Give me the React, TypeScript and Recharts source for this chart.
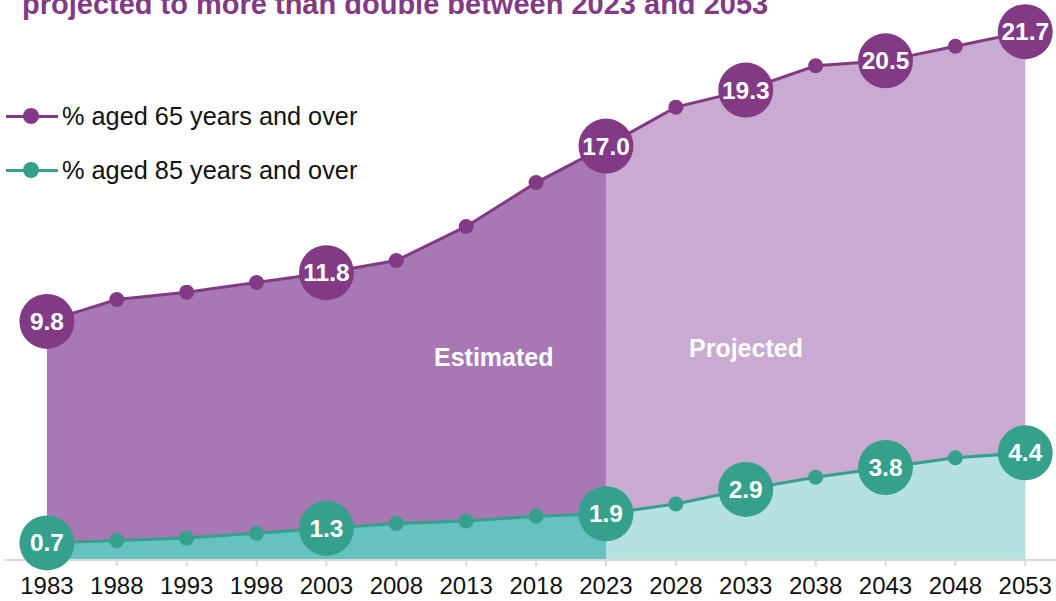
import { ComposedChart, Area, Line, XAxis, YAxis } from 'recharts';

const years = [1983, 1988, 1993, 1998, 2003, 2008, 2013, 2018, 2023, 2028, 2033, 2038, 2043, 2048, 2053];
const aged65 = [9.8, 10.7, 11.0, 11.4, 11.8, 12.3, 13.7, 15.5, 17.0, 18.6, 19.3, 20.3, 20.5, 21.1, 21.7];
const aged85 = [0.7, 0.8, 0.9, 1.1, 1.3, 1.5, 1.6, 1.8, 1.9, 2.3, 2.9, 3.4, 3.8, 4.2, 4.4];
const labeledYears = [1983, 2003, 2023, 2033, 2043, 2053];
const lastEstimated = 2023;

const seriesNames = ['% aged 65 years and over', '% aged 85 years and over'];
const title = 'projected to more than double between 2023 and 2053';

const PURPLE = '#833a85';
const TEAL = '#35a08b';
const FONT = '"Liberation Sans", Arial, sans-serif';

const data = years.map((year, i) => ({
    year,
    a65: aged65[i],
    a85: aged85[i],
    a65est: year <= lastEstimated ? aged65[i] : null,
    a65proj: year >= lastEstimated ? aged65[i] : null,
    a85est: year <= lastEstimated ? aged85[i] : null,
    a85proj: year >= lastEstimated ? aged85[i] : null,
}));

const makeDot = (color: string) => (props: any) => {
    const { cx, cy, payload, index, value } = props;
    if (cx == null || cy == null) return <g key={`e-${index}`} />;
    if (labeledYears.includes(payload.year)) {
        return (
            <g key={`d-${index}`}>
                <circle cx={cx} cy={cy} r={27.5} fill={color} />
                <text x={cx} y={cy} dy={8.5} textAnchor="middle" fill="#fff" fontSize={24.5} fontWeight="bold" fontFamily={FONT}>
                    {Number(value).toFixed(1)}
                </text>
            </g>
        );
    }
    return <circle key={`d-${index}`} cx={cx} cy={cy} r={7.5} fill={color} />;
};

const LegendRow = ({ color, label, top }: { color: string; label: string; top: number }) => (
    <div style={{ position: 'absolute', left: 6, top, height: 30, display: 'flex', alignItems: 'center' }}>
        <div style={{ position: 'relative', width: 52, height: 30 }}>
            <div style={{ position: 'absolute', left: 0, top: 13.5, width: 52, height: 3, background: color }} />
            <div style={{ position: 'absolute', left: 17, top: 7, width: 16, height: 16, borderRadius: 8, background: color }} />
        </div>
        <span style={{ marginLeft: 4, fontSize: 25.3, color: '#111', whiteSpace: 'nowrap' }}>{label}</span>
    </div>
);

export default function App() {
    return (
        <div style={{ position: 'absolute', left: 0, top: 0, width: 1056, height: 601, overflow: 'hidden', background: '#fff', fontFamily: FONT }}>
            <ComposedChart width={1056} height={601} data={data} margin={{ top: 0, right: 0, bottom: 0, left: 5 }}>
                <XAxis
                    dataKey="year"
                    type="number"
                    domain={[1980, 2055.2]}
                    ticks={years}
                    interval={0}
                    height={41}
                    stroke="#d9d9d9"
                    strokeWidth={2}
                    tickSize={6}
                    tickMargin={11}
                    tick={{ fill: '#111', fontSize: 24, fontFamily: FONT }}
                />
                <YAxis hide domain={[0, 23]} />
                <Area type="linear" dataKey="a65est" stroke="none" fill="#a878b5" fillOpacity={1} isAnimationActive={false} dot={false} activeDot={false} />
                <Area type="linear" dataKey="a65proj" stroke="none" fill="#c9aad0" fillOpacity={1} isAnimationActive={false} dot={false} activeDot={false} />
                <Area type="linear" dataKey="a85est" stroke="none" fill="#65c2c1" fillOpacity={1} isAnimationActive={false} dot={false} activeDot={false} />
                <Area type="linear" dataKey="a85proj" stroke="none" fill="#b5e2e1" fillOpacity={1} isAnimationActive={false} dot={false} activeDot={false} />
                <Line type="linear" dataKey="a65" stroke={PURPLE} strokeWidth={3} dot={makeDot(PURPLE)} activeDot={false} isAnimationActive={false} />
                <Line type="linear" dataKey="a85" stroke={TEAL} strokeWidth={3} dot={makeDot(TEAL)} activeDot={false} isAnimationActive={false} />
            </ComposedChart>
            <div style={{ position: 'absolute', left: 22, top: -10, lineHeight: '29px', fontSize: 29, fontWeight: 'bold', color: PURPLE, whiteSpace: 'nowrap' }}>
                {title}
            </div>
            <LegendRow color={PURPLE} label={seriesNames[0]} top={101} />
            <LegendRow color={TEAL} label={seriesNames[1]} top={155} />
            <div style={{ position: 'absolute', left: 434, top: 343, fontSize: 25, fontWeight: 'bold', color: '#fff' }}>Estimated</div>
            <div style={{ position: 'absolute', left: 689, top: 334, fontSize: 25, fontWeight: 'bold', color: '#fff' }}>Projected</div>
        </div>
    );
}
